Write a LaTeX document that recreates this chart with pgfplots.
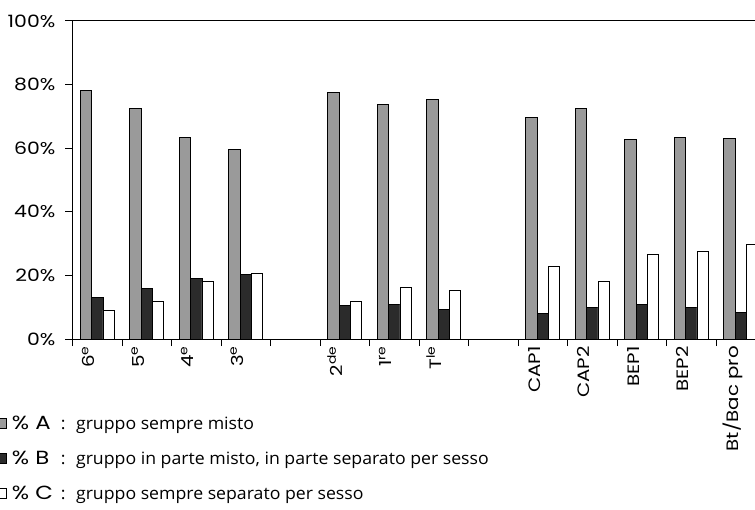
\documentclass[border=0pt]{standalone}
\usepackage{fontspec}
\usepackage{pgfplots}
\usepackage{pgfplotstable}
\pgfplotsset{compat=1.18}
\setmainfont[FakeStretch=1.04]{Open Sans}
\newfontfamily\geo[FakeStretch=1.2]{Poppins}
\definecolor{barA}{HTML}{9A9A9A}
\definecolor{barB}{HTML}{2B2B2B}
\pgfplotsset{sqlegend/.style={legend image code/.code={\draw[##1, line width=0.7pt] (0pt,-4pt) rectangle (10pt,6pt);}}}

\pgfplotstableread{
x A B C
0 78.1 13.0 9.1
1 72.5 15.9 11.7
2 63.3 19.1 18.0
3 59.6 20.3 20.7
5 77.6 10.5 11.9
6 73.8 11.0 16.1
7 75.3 9.4 15.4
9 69.7 8.1 22.7
10 72.5 10.0 18.0
11 62.8 11.0 26.7
12 63.5 10.0 27.5
13 63.0 8.4 29.6
}\data

\begin{document}
\begin{tikzpicture}
\useasboundingbox (0pt,0pt) rectangle (755pt,509pt);
\begin{axis}[
  at={(72.5pt,170pt)}, anchor=south west,
  scale only axis, width=693pt, height=318pt,
  xmin=-0.5, xmax=13.5, ymin=0, ymax=100,
  axis x line=box, axis y line=left,
  axis line style={-, line width=1pt, black},
  xtick pos=bottom, ytick pos=left,
  tick align=outside, major tick length=7pt,
  tick style={black, line width=1pt},
  xtick={-0.5,0.5,1.5,2.5,3.5,4.5,5.5,6.5,7.5,8.5,9.5,10.5,11.5,12.5,13.5},
  xticklabel=\empty,
  extra x ticks={-0.17,0.83,1.83,2.83,4.83,5.83,6.83,8.83,9.83,10.83,11.83,12.83},
  extra x tick labels={6\textsuperscript{e},5\textsuperscript{e},4\textsuperscript{e},3\textsuperscript{e},2\textsuperscript{de},1\textsuperscript{re},T\textsuperscript{le},CAP1,CAP2,BEP1,BEP2,Bt/Bac pro},
  extra x tick style={major tick length=0pt,
    tick label style={yshift=-7pt, rotate=90, anchor=east, inner sep=0pt, text height=11.5pt, text depth=0pt, font=\geo\fontsize{16.5}{16.5}\selectfont}},
  ytick={0,20,40,60,80,100},
  yticklabels={0\%,20\%,40\%,60\%,80\%,100\%},
  y tick label style={font=\geo\fontsize{17}{17}\selectfont, inner sep=0pt, xshift=-10pt},
  ybar=0pt, bar width=11.3pt,
  legend style={at={(axis description cs:-0.1104,-0.2390)}, anchor=north west,
    draw=none, fill=none, inner sep=0pt, row sep=16pt,
    nodes={inner sep=0pt, text height=14pt, text depth=5pt, font=\fontsize{17}{17}\selectfont}},
  legend cell align=left,
]
\addplot[fill=barA, draw=black, line width=0.8pt, sqlegend]
  table[x=x,y=A]{\data};
\addlegendentry{\hspace{5pt}\makebox[49pt][l]{\geo\fontsize{19}{19}\selectfont\% A}:\hspace{10.5pt}gruppo sempre misto}
\addplot[fill=barB, draw=black, line width=0.8pt, sqlegend]
  table[x=x,y=B]{\data};
\addlegendentry{\hspace{5pt}\makebox[49pt][l]{\geo\fontsize{19}{19}\selectfont\% B}:\hspace{10.5pt}gruppo in parte misto, in parte separato per sesso}
\addplot[fill=white, draw=black, line width=0.8pt, sqlegend]
  table[x=x,y=C]{\data};
\addlegendentry{\hspace{5pt}\makebox[49pt][l]{\geo\fontsize{19}{19}\selectfont\% C}:\hspace{10.5pt}gruppo sempre separato per sesso}
\end{axis}
\end{tikzpicture}
\end{document}
